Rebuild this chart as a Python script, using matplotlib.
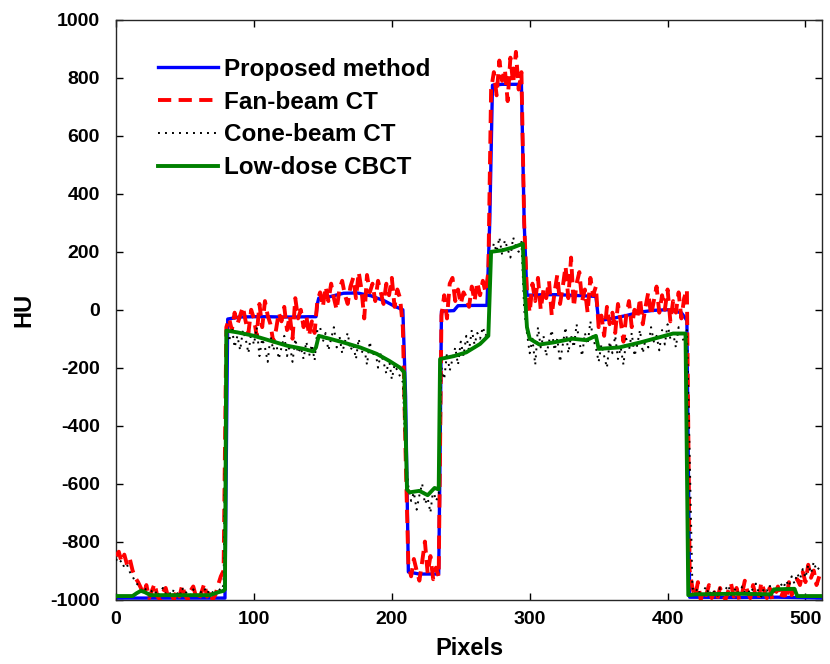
import numpy as np
import matplotlib
matplotlib.use("Agg")
import matplotlib.pyplot as plt

# ---------------- data ----------------
# noisy profiles sampled every 2 pixels (0..510)
fan_beam = [
    # 0..78
    -850, -835, -870, -845, -880, -860, -900, -925, -940, -960,
    -985, -950, -995, -970, -945, -990, -1000, -975, -960, -995,
    -980, -1000, -965, -990, -950, -985, -1000, -970, -955, -990,
    -1000, -975, -945, -990, -970, -1000, -985, -950, -920, -900,
    # 80..146
    -60, -30, -70, -10, -50, -20, 10, -40, -80, 0,
    -30, -90, 20, -60, 30, -20, -50, -110, -70, -10,
    -40, 10, -70, -20, -100, 40, -30, 0, -60, -20,
    -90, -40, -80, 30,
    # 148..208
    60, 10, 80, 30, 90, 40, 0, 70, 100, 50,
    20, 80, 110, 40, 130, 70, -30, 120, 60, 90,
    30, 100, 60, 20, 90, 50, 110, 10, 70, 40,
    -60,
    # 210..234
    -500, -880, -920, -860, -900, -935, -870, -800, -910, -850,
    -930, -890, -920,
    # 236..270
    -20, 50, -30, 90, 110, 30, 70, 20, 60, 40,
    10, 80, 30, 95, 50, 100, 60, 130,
    # 272..294
    760, 820, 740, 860, 790, 830, 720, 870, 780, 890, 760, 820,
    # 296..348
    300, 60, -10, 90, 30, 110, 0, 70, 40, 100,
    -20, 60, 120, 20, 80, 150, 40, 180, 10, 90,
    130, 30, 70, -10, 110, 50, 80,
    # 350..414
    -60, -20, -90, 10, -50, -10, -80, 20, -40, -110,
    -20, 30, -60, 0, -30, 40, -50, 10, 60, -20,
    30, 80, -10, 50, 0, 70, -40, 30, -10, 60,
    -30, 40, 70,
    # 416..510
    -900, -960,
    -990, -940, -1000, -970, -985, -950, -995, -975, -1000, -960,
    -985, -1000, -970, -945, -990, -960, -1000, -980, -935, -975,
    -995, -950, -990, -1000, -940, -970, -995, -960, -1000, -980,
    -955, -995, -970, -1000, -940, -985, -960, -930, -950, -905,
    -940, -880, -925, -900, -950, -920,
]

cone_beam = [
    # 0..78
    -860, -875, -865, -890, -880, -905, -920, -940, -950, -965,
    -975, -960, -985, -970, -965, -990, -975, -960, -980, -970,
    -985, -965, -975, -990, -960, -980, -970, -985, -965, -975,
    -990, -970, -960, -980, -965, -975, -985, -960, -970, -950,
    # 80..146
    -80, -110, -60, -130, -90, -140, -70, -100, -150, -80,
    -120, -60, -160, -100, -130, -180, -90, -140, -110, -170,
    -130, -90, -160, -120, -180, -100, -150, -130, -170, -110,
    -160, -120, -175, -70,
    # 148..208
    -60, -110, -80, -140, -100, -60, -130, -90, -150, -110,
    -80, -140, -120, -170, -100, -150, -130, -190, -110, -160,
    -140, -200, -150, -180, -220, -170, -240, -190, -210, -230,
    -250,
    # 210..234
    -500, -610, -660, -630, -690, -640, -600, -670, -650, -700,
    -620, -660, -640,
    # 236..270
    -200, -240, -150, -210, -170, -130, -190, -110, -160, -90,
    -140, -70, -120, -80, -100, -60, -90, -70,
    # 272..294
    180, 230, 200, 250, 190, 240, 210, 180, 250, 220, 200, 240,
    # 296..348
    0, -80, -150, -100, -190, -60, -130, -90, -160, -110,
    -70, -140, -100, -180, -120, -60, -150, -90, -130, -50,
    -110, -160, -80, -120, -40, -100, -130,
    # 350..414
    -180, -120, -160, -200, -110, -150, -90, -170, -130, -190,
    -100, -140, -80, -160, -120, -70, -150, -100, -130, -60,
    -110, -90, -140, -70, -120, -50, -100, -80, -130, -60,
    -90, -110, -70,
    # 416..510
    -500, -960,
    -975, -960, -990, -970, -955, -985, -965, -975, -990, -960,
    -980, -965, -950, -985, -970, -960, -990, -955, -975, -965,
    -980, -960, -945, -975, -990, -960, -970, -950, -985, -965,
    -970, -945, -960, -935, -955, -920, -945, -910, -930, -895,
    -925, -880, -910, -870, -900, -890,
]
noisy_step = 2
noisy_x = [i * noisy_step for i in range(len(fan_beam))]

# smooth profiles given at their own sample pixels
proposed_x = [0, 79, 80, 81, 90, 100, 110, 120, 130, 140, 145, 146, 147,
              155, 165, 175, 185, 195, 202, 208, 210, 212, 220, 234, 235,
              236, 245, 248, 260, 269, 271, 273, 280, 290, 294, 296, 298,
              310, 320, 330, 340, 348, 350, 360, 370, 380, 390, 400, 410,
              413, 414, 416, 450, 480, 512]
proposed_y = [-995, -995, -500, -32, -25, -24, -24, -25, -25, -24, -24, 20, 40,
              45, 57, 58, 48, 30, 12, 0, -300, -905, -912, -912, -500,
              -5, -3, 14, 15, 15, 300, 775, 778, 778, 778, 300, 50,
              52, 52, 50, 48, 46, -38, -30, -20, -8, -2, 0, -10,
              -30, -38, -992, -993, -992, -995]

lowdose_x = [0, 12, 15, 18, 21, 25, 68, 74, 78, 79, 80, 88, 100, 112, 124,
             136, 143, 145, 147, 155, 165, 177, 189, 198, 206, 209, 211,
             213, 220, 226, 231, 234, 235, 245, 254, 264, 270, 272, 280,
             288, 295, 296, 298, 300, 307, 317, 331, 341, 348, 350, 365,
             380, 394, 404, 413, 415, 420, 450, 475, 477, 492, 494, 512]
lowdose_y = [-988, -988, -978, -970, -975, -985, -985, -975, -970, -965, -72,
             -78, -90, -107, -124, -135, -144, -130, -90, -100, -113, -130,
             -152, -176, -200, -216, -620, -630, -625, -640, -615, -620,
             -170, -160, -147, -118, -90, 200, 205, 215, 228, 100, -60,
             -100, -120, -113, -100, -105, -90, -135, -130, -113, -95,
             -82, -82, -985, -982, -980, -982, -965, -963, -988, -988]

series_names = ["Proposed method", "Fan-beam CT", "Cone-beam CT", "Low-dose CBCT"]
x_ticks = [0, 100, 200, 300, 400, 500]
y_ticks = [-1000, -800, -600, -400, -200, 0, 200, 400, 600, 800, 1000]

# ---------------- plot ----------------
plt.rcParams['font.family'] = ['Liberation Sans', 'DejaVu Sans']
plt.rcParams['font.weight'] = 'bold'
plt.rcParams['axes.unicode_minus'] = False

fig = plt.figure(figsize=(8.3, 6.64), dpi=100)
ax = fig.add_axes([0.1398, 0.0971, 0.8506, 0.8728])

ax.plot(proposed_x, proposed_y, color='#0000ff', lw=2.4, label=series_names[0], zorder=2)
ax.plot(noisy_x, fan_beam, color='#ff0000', lw=2.8, linestyle=(0, (3.4, 1.9)),
        label=series_names[1], zorder=3)
ax.plot(noisy_x, cone_beam, color='black', lw=1.4, linestyle=(0, (1.0, 2.6)),
        label=series_names[2], zorder=4)
ax.plot(lowdose_x, lowdose_y, color='#008000', lw=2.8, label=series_names[3], zorder=5)

ax.set_xlim(0, 512)
ax.set_ylim(-1000, 1000)
ax.set_xticks(x_ticks)
ax.set_yticks(y_ticks)
ax.tick_params(direction='in', length=5, width=1, top=True, right=True,
               labelsize=14)
ax.tick_params(axis='x', pad=8)
ax.tick_params(axis='y', pad=11.5)
for lab in ax.get_xticklabels() + ax.get_yticklabels():
    lab.set_fontweight('bold')
for sp in ax.spines.values():
    sp.set_linewidth(1.0)
    sp.set_color('#262626')

ax.set_xlabel('Pixels', fontsize=17, fontweight='bold', labelpad=7)
ax.set_ylabel('HU', fontsize=17, fontweight='bold', labelpad=11)

leg = ax.legend(loc='upper left', bbox_to_anchor=(0.032, 0.968), frameon=False,
                fontsize=17.5, handlelength=2.47, handletextpad=0.25,
                labelspacing=0.4, borderpad=0.3)
for t in leg.get_texts():
    t.set_fontweight('bold')

fig.savefig('out.png', dpi=100)
